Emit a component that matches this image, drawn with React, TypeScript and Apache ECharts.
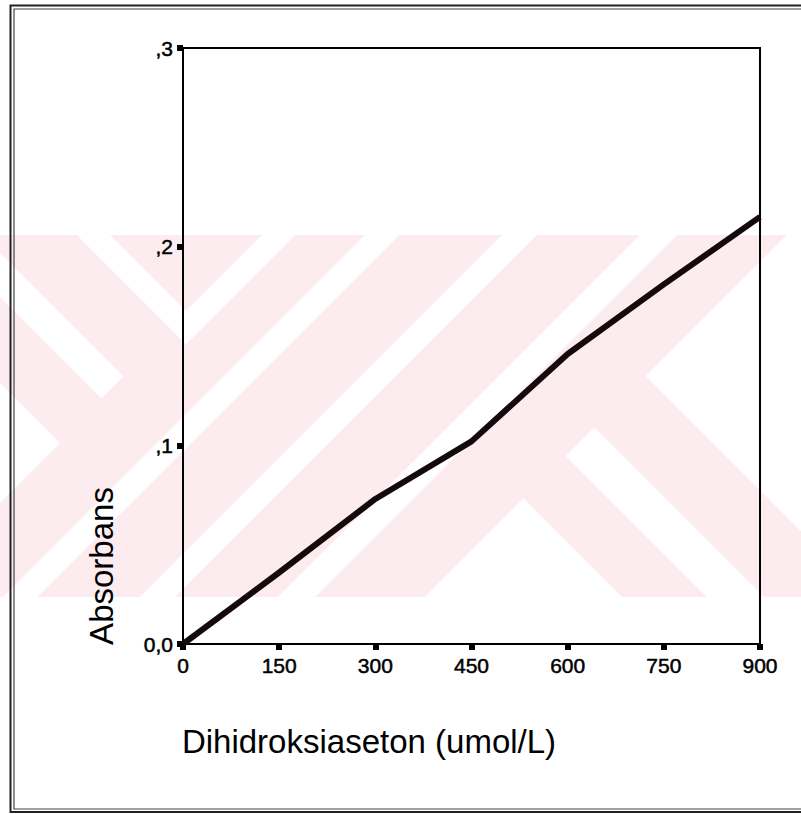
import React, { useEffect, useRef } from "react";
import * as echarts from "echarts";

const xValues = [0, 150, 300, 450, 600, 750, 900];
const absorbance = [0, 0.036, 0.073, 0.102, 0.146, 0.181, 0.215];
const yTickLabels: Record<string, string> = { "0": "0,0", "0.1": ",1", "0.2": ",2", "0.3": ",3" };
const xTitle = "Dihidroksiaseton (umol/L)";
const yTitle = "Absorbans";

type Pt = [number, number];
// clip convex polygon by half-plane a*x + b*y <= c
function clip(poly: Pt[], a: number, b: number, c: number): Pt[] {
  const out: Pt[] = [];
  for (let i = 0; i < poly.length; i++) {
    const p = poly[i];
    const q = poly[(i + 1) % poly.length];
    const fp = a * p[0] + b * p[1] - c;
    const fq = a * q[0] + b * q[1] - c;
    if (fp <= 0) out.push(p);
    if ((fp < 0 && fq > 0) || (fp > 0 && fq < 0)) {
      const t = fp / (fp - fq);
      out.push([p[0] + t * (q[0] - p[0]), p[1] + t * (q[1] - p[1])]);
    }
  }
  return out;
}
const BAND: Pt[] = [[0, 235], [801, 235], [801, 597], [0, 597]];
function region(planes: [number, number, number][]): Pt[] {
  let p = BAND.slice();
  for (const [a, b, c] of planes) p = clip(p, a, b, c);
  return p;
}
// half-plane helpers: s = x+y, d = x-y
const sLE = (c: number): [number, number, number] => [1, 1, c];
const sGE = (c: number): [number, number, number] => [-1, -1, -c];
const dLE = (c: number): [number, number, number] => [1, -1, c];
const dGE = (c: number): [number, number, number] => [-1, 1, -c];

const whiteRegions: Pt[][] = [
  // left "\" band ending on a "/" cut
  region([dGE(-297), dLE(-253), sLE(500)]),
  // left white wedge pointing right
  region([dLE(-383), sLE(503)]),
  // white V (two arms)
  region([dGE(-158), dLE(-125), sLE(530)]),
  region([sGE(497), sLE(530), dGE(-158)]),
  // "/" stripes
  region([sGE(600), sLE(634)]),
  region([sGE(737), sLE(772)]),
  region([sGE(875), sLE(912)]),
  // right "K" arms
  region([sGE(1022), dLE(25)]),
  region([sGE(1022), dGE(110), dLE(167)]),
  region([sGE(1022), dGE(270)]),
];

const FONT = "Liberation Sans, Arial, Helvetica, sans-serif";

export default function App() {
  const ref = useRef<HTMLDivElement>(null);
  useEffect(() => {
    if (!ref.current) return;
    const chart = echarts.init(ref.current, null, { renderer: "svg" });
    const pink = "#fdecef";
    const graphics: any[] = [
      { type: "rect", z: -10, shape: { x: 0, y: 235, width: 801, height: 362 }, style: { fill: pink } },
      ...whiteRegions
        .filter((r) => r.length > 2)
        .map((r) => ({ type: "polygon", z: -9, shape: { points: r }, style: { fill: "#ffffff" } })),
      // frame (double line)
      { type: "polyline", z: 5, shape: { points: [[806, 5.5], [10.5, 5.5], [10.5, 812], [806, 812]] }, style: { stroke: "#222", lineWidth: 2, fill: null } },
      { type: "polyline", z: 5, shape: { points: [[806, 9], [14, 9], [14, 809], [806, 809]] }, style: { stroke: "#444", lineWidth: 1.2, fill: null } },
      // axis titles
      {
        type: "text",
        z: 6,
        x: 369,
        y: 741,
        style: { text: xTitle, fontFamily: FONT, fontSize: 33, fill: "#000", align: "center", verticalAlign: "middle" },
      },
      {
        type: "text",
        z: 6,
        x: 101,
        y: 566,
        rotation: Math.PI / 2,
        style: { text: yTitle, fontFamily: FONT, fontSize: 33, fill: "#000", align: "center", verticalAlign: "middle" },
      },
    ];
    const labelStyle = {
      fontFamily: FONT,
      fontSize: 21,
      color: "#000",
      textBorderColor: "#000",
      textBorderWidth: 0.5,
    };
    chart.setOption({
      animation: false,
      backgroundColor: "#ffffff",
      graphic: graphics,
      grid: {
        left: 183,
        right: 41,
        top: 48,
        bottom: 170,
        containLabel: false,
        outerBoundsMode: "none",
        show: true,
        borderColor: "#000",
        borderWidth: 2,
        backgroundColor: "transparent",
      },
      xAxis: {
        type: "value",
        min: 0,
        max: 900,
        interval: 150,
        axisLine: { show: true, onZero: false, lineStyle: { color: "#000", width: 2 } },
        axisTick: { show: true, inside: false, length: 6, lineStyle: { color: "#000", width: 6 } },
        axisLabel: { show: true, margin: 11, ...labelStyle },
        splitLine: { show: false },
      },
      yAxis: {
        type: "value",
        min: 0,
        max: 0.3,
        interval: 0.1,
        axisLine: { show: true, onZero: false, lineStyle: { color: "#000", width: 2 } },
        axisTick: { show: true, inside: false, length: 6, lineStyle: { color: "#000", width: 6 } },
        axisLabel: {
          show: true,
          margin: 10,
          padding: [8, 0, 0, 0],
          ...labelStyle,
          formatter: (v: number) => yTickLabels[String(Math.round(v * 10) / 10)] ?? "",
        },
        splitLine: { show: false },
      },
      series: [
        {
          type: "line",
          data: xValues.map((x, i) => [x, absorbance[i]]),
          showSymbol: false,
          symbol: "none",
          lineStyle: { color: "#140a0c", width: 6, join: "round", cap: "butt" },
          z: 3,
        },
      ],
    });
    return () => chart.dispose();
  }, []);
  return <div ref={ref} style={{ width: 801, height: 814, position: "absolute", left: 0, top: 0 }} />;
}
